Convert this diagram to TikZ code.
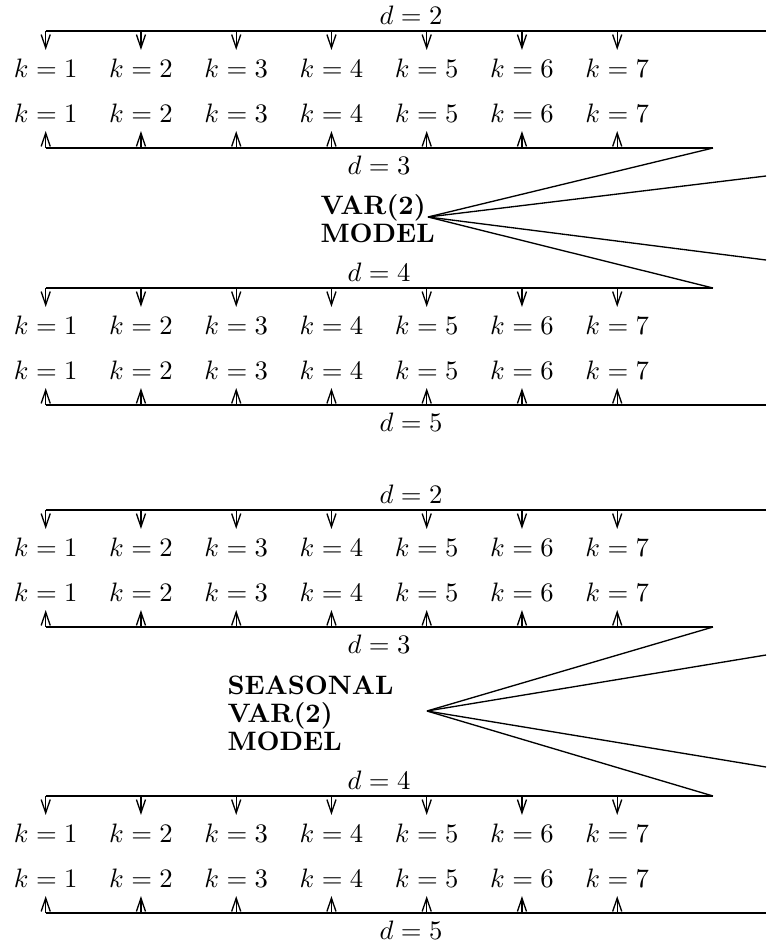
\documentclass[tikz,border=0pt]{standalone}
\usetikzlibrary{arrows.meta}
\tikzset{
  bar/.style={line width=0.8pt},
  tick/.style={line width=0.5pt,-{Straight Barb[length=5pt,width=3.4pt]}},
  ray/.style={line width=0.5pt},
  klab/.style={inner sep=0pt,outer ysep=3.3pt},
  dlab/.style={inner sep=0pt},
  model/.style={inner sep=0pt,anchor=west,align=left,
    font=\bfseries\fontsize{10}{10.5}\selectfont}
}
\begin{document}
\begin{tikzpicture}[x=0.375pt,y=-0.375pt]
\useasboundingbox (0,0) rectangle (766,942);

% two identical lag grids: rails d=2..5 with k=1..7 taps
\foreach \b/\ya/\yb/\yc/\yd in {A/31/148/288/405,B/510/627/796/913}{
  \coordinate (\b-2w) at (45.7,\ya); \coordinate (\b-2e) at (766,\ya);
  \coordinate (\b-3w) at (45.7,\yb); \coordinate (\b-3e) at (713,\yb);
  \coordinate (\b-4w) at (45.7,\yc); \coordinate (\b-4e) at (713,\yc);
  \coordinate (\b-5w) at (45.7,\yd); \coordinate (\b-5e) at (766,\yd);
  \draw[bar] (\b-2w) -- (\b-2e);
  \draw[bar] (\b-3w) -- (\b-3e);
  \draw[bar] (\b-4w) -- (\b-4e);
  \draw[bar] (\b-5w) -- (\b-5e);
  \node[dlab] (\b-d2) at (411,\ya-16) {$d=2$};
  \node[dlab] (\b-d3) at (379,\yb+17) {$d=3$};
  \node[dlab] (\b-d4) at (379,\yc-16) {$d=4$};
  \node[dlab] (\b-d5) at (411,\yd+17) {$d=5$};
  \foreach \i in {1,...,7}{
    \pgfmathsetmacro\xk{45.7+95.25*(\i-1)}
    \node[klab] (\b-r1-\i) at (\xk,\ya+37) {$k=\i$};
    \node[klab] (\b-r2-\i) at (\xk,\yb-35) {$k=\i$};
    \node[klab] (\b-r3-\i) at (\xk,\yc+37) {$k=\i$};
    \node[klab] (\b-r4-\i) at (\xk,\yd-35) {$k=\i$};
    \draw[tick] (\b-r1-\i.north |- \b-2w) -- (\b-r1-\i.north);
    \draw[tick] (\b-r2-\i.south |- \b-3w) -- (\b-r2-\i.south);
    \draw[tick] (\b-r3-\i.north |- \b-4w) -- (\b-r3-\i.north);
    \draw[tick] (\b-r4-\i.south |- \b-5w) -- (\b-r4-\i.south);
  }
}

% model fans
\node[model] (A-text) at (320,219) {VAR(2)\\MODEL};
\coordinate (A-apex) at (428,217);
\coordinate (A-up) at (766,176);
\coordinate (A-lo) at (766,260);
\draw[ray] (A-apex) -- (A-3e);
\draw[ray] (A-apex) -- (A-up);
\draw[ray] (A-apex) -- (A-lo);
\draw[ray] (A-apex) -- (A-4e);

\node[model] (B-text) at (227,713) {SEASONAL\\VAR(2)\\MODEL};
\coordinate (B-apex) at (427,711);
\coordinate (B-up) at (766,655);
\coordinate (B-lo) at (766,767);
\draw[ray] (B-apex) -- (B-3e);
\draw[ray] (B-apex) -- (B-up);
\draw[ray] (B-apex) -- (B-lo);
\draw[ray] (B-apex) -- (B-4e);
\end{tikzpicture}
\end{document}
